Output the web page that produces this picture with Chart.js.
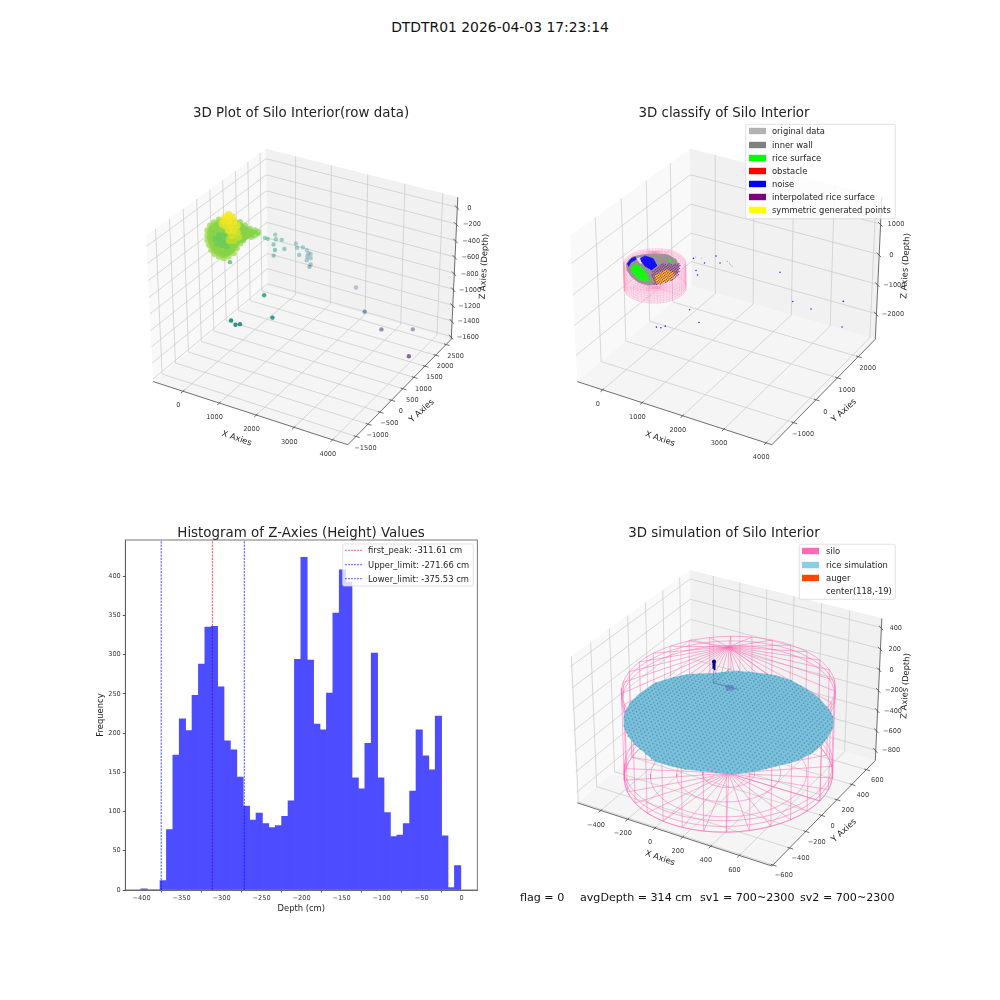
<!doctype html>
<html><head><meta charset="utf-8"><style>
html,body{margin:0;background:#fff;width:1000px;height:1000px;overflow:hidden}
canvas{position:absolute}
#sup{position:absolute;left:0;top:19px;width:1000px;text-align:center;font:13.9px 'DejaVu Sans';color:#111}
</style></head><body>
<div id="sup">DTDTR01 2026-04-03 17:23:14</div>
<canvas id="c1" width="500" height="500" style="left:0;top:0"></canvas>
<canvas id="c2" width="500" height="500" style="left:500px;top:0"></canvas>
<canvas id="c3" width="500" height="500" style="left:0;top:500px"></canvas>
<canvas id="c4" width="500" height="500" style="left:500px;top:500px"></canvas>
<script src="https://cdn.jsdelivr.net/npm/chart.js@4"></script>
<script>
/* ---------- values ---------- */
const histBins=[-397,-389,-381,-373,-365,-357,-349,-341,-333,-325,-317,-309,-301,-293,-285,-277,-269,-261,-253,-245,-237,-229,-221,-213,-205,-197,-189,-181,-173,-165,-157,-149,-141,-133,-125,-117,-109,-101,-93,-85,-77,-69,-61,-53,-45,-37,-29,-21,-13,-5];
const histCounts=[1.5,0,0,12,77,172,218,203,248,288,335,336,259,190,178.5,144,107,89,98,84.5,79.5,82,94,113.5,294,424,293,211.5,204,251,353,408,392,143,129,187,302,143,98.5,68,70,84.5,126,204,171,153,221.5,69,3,31];
const histXTicks=[-400,-350,-300,-250,-200,-150,-100,-50,0];
const histYTicks=[0,50,100,150,200,250,300,350,400];
const peakLines=[-311.61,-271.66,-375.53];
const peakBarTops=[335,107,12];
const peakNames=['first_peak: -311.61 cm','Upper_limit: -271.66 cm','Lower_limit: -375.53 cm'];

// stray points of the cloud
const strayX=[1848,2782,3151,3509,3980,1378,1703,1062,1107,1139,17,294,152,55,142,241,413,419,195,352,490,600,615,548,667,733,730,781,747,899,928,272,279];
const strayY=[2556,1428,1586,2439,1456,-584,-741,-1406,-1306,-1183,1853,1719,1682,1367,1360,1456,1258,1641,1519,2226,2074,2147,1970,2396,2285,2285,2147,2211,2093,2032,1930,-315,785];
const strayZ=[-1254,-1147,-1362,-1542,-1553,-608,-792,-737,-808,-829,-640,-640,-640,-560,-560,-640,-640,-720,-800,-800,-800,-800,-850,-900,-900,-900,-900,-930,-930,-950,-950,-420,-350];
// dense part of the cloud
const cloudX=[-665,-532,-401,-238,-64,104,256,395,452,466,407,347,-745,-753,-724, -700,-567,-436,-153,74,215,230,169,107,88,69,179,237,218,328,74,-114,-304,16,322,-688,-542,102,206,50,-51,-172,240,63,346, -550,-482,-371,-261,-385,-241,-98,-570,-469, 409,329,250,316,324,319,243,257,193,26,-129,155,65,-91,32,-100,-72];
const cloudY=[129,-52,-232,-393,-547,-654,-704,-712,-605,-438,-229,-17,340,504,655, 364,181,-1,-266,-393,-402,-234,-22,192,347,503,475,587,745,717,755,829,902,643,465,538,310,-56,-326,81,609,715,259,666,560, 276,310,283,256,111,102,92,432,483, -161,-238,-278,-90,-290,-217,-297,-3,-163,-119,-30,16,-44,-16,127,60,148];
const cloudZ=[-260,-260,-260,-260,-260,-260,-260,-260,-260,-260,-260,-260,-260,-260,-260, -300,-300,-300,-300,-300,-300,-300,-300,-300,-300,-300,-300,-300,-300,-300,-300,-300,-300,-300,-300,-300,-300,-300,-300,-300,-300,-300,-300,-300,-300, -380,-380,-380,-380,-380,-380,-380,-380,-380, -140,-170,-170,-110,-100,-60,-50,-60,-30,-60,-80,-30,-15,-40,-20,-20,-10];
const cloudHull=[14,13,12,0,1,2,3,4,5,6,7,8,9,10,11,34,29,28,30,31,32,68,70,69];
const cloudSplit=54;

// classified regions of panel 2, in x,y at rice level
const classLevel=-300;
const wallX=[-642,-689,-694,-568,-349,-67,199,415,552,556,433,276,45,-228,-471];
const wallY=[83,261,430,607,803,896,807,591,298,-114,-383,-489,-491,-351,-157];
const riceAX=[-458,-468,-266,75,202,14,-240];
const riceAY=[-32,183,130,-143,-319,-377,-241];
const riceBX=[31,180,171];
const riceBY=[710,728,620];
const noiseAX=[-511,-481,-261,0,-2,-219,-412];
const noiseAY=[450,605,594,351,113,191,335];
const noiseBX=[-624,-679,-644,-549,-575,-513];
const noiseBY=[94,353,459,376,190,-12];
const interpX=[9,28,382,595,641,509,390];
const interpY=[69,469,673,323,17,-306,-407];
const symX=[170,245,490,610,494,395];
const symY=[-55,323,263,-1,-282,-322];
const paleX=[-592,-535,-329,-375];
const paleY=[403,488,298,237];
const interpGridX=[0,60,120,180,240,300,360,420,480,540,600,660];
const interpGridY=[-420,-360,-300,-240,-180,-120,-60,0,60,120,180,240,300,360,420,480,540,600,660];
const noiseFarX=[506,826,885,1119,837,968];
const noiseFarY=[1028,966,1366,1139,589,432];
const wallFarX=[521,652,1221,1351,1420,1300];
const wallFarY=[1102,1130,1279,1192,1146,1240];

// silo
const siloCentre=[155,1];
const siloRadius2=670, siloFloor2=-740, siloRim2=60, siloApex2=445;
const siloRadius4=655, siloFloor4=-770, siloRim4=70, siloApex4=445;
const thetaDeg=[0,6,12,18,24,30,36,42,48,54,60,66,72,78,84,90,96,102,108,114,120,126,132,138,144,150,156,162,168,174,180,186,192,198,204,210,216,222,228,234,240,246,252,258,264,270,276,282,288,294,300,306,312,318,324,330,336,342,348,354,360];
const fineRings=[-740,-660,-580,-500,-420,-340,-260,-180,-100,-20,60];
const coarseRings=[-770,-715,-660,-20,25,70];
const fineDisc=[.1,.2,.3,.4,.5,.6,.7,.8,.9,1];
const coarseDisc=[.25,.5,.75,1];

// simulated rice surface
const simLevel=-314;
const simX=[-284,-168,-21,88,220,356,471,594,670,726,746,766,759,718,642,566,465,332,196,91,-26,-129,-234,-323,-416,-483,-519,-549,-561,-551,-493,-427];
const simY=[539,637,683,709,693,646,589,493,419,314,236,93,-19,-148,-253,-357,-454,-498,-540,-556,-557,-508,-458,-397,-314,-215,-143,-43,69,244,350,445];
const simGridX=[-570,-540,-510,-480,-450,-420,-390,-360,-330,-300,-270,-240,-210,-180,-150,-120,-90,-60,-30,0,30,60,90,120,150,180,210,240,270,300,330,360,390,420,450,480,510,540,570,600,630,660,690,720,750,780];
const simGridY=[-600,-570,-540,-510,-480,-450,-420,-390,-360,-330,-300,-270,-240,-210,-180,-150,-120,-90,-60,-30,0,30,60,90,120,150,180,210,240,270,300,330,360,390,420,450,480,510,540,570,600,630,660,690,720];
const augerLevel=-100;
const augerOrigin=[-72,188], augerA=[-76,403], augerB=[110,194], augerShaft=[-164,345], augerTip=[-213,426];
const hubX=[10,55,93,52], hubY=[200,225,170,139];

// axis limits and ticks of the 3D panels
const lim1={x:[-840,4389],y:[-1832,2748],z:[-1633,122]};
const lim2={x:[-657,4136],y:[-1935,2850],z:[-2881,1868]};
const lim4={x:[-578,825],y:[-612,725],z:[-906,487]};
const ticks1={x:[0,1000,2000,3000,4000],y:[-1500,-1000,-500,0,500,1000,1500,2000,2500],z:[-1600,-1400,-1200,-1000,-800,-600,-400,-200,0]};
const ticks2={x:[0,1000,2000,3000,4000],y:[-1000,0,1000,2000],z:[-2000,-1000,0,1000]};
const ticks4={x:[-400,-200,0,200,400,600],y:[-600,-400,-200,0,200,400,600],z:[-800,-600,-400,-200,0,200,400]};

const legend2=[['original data','#b2b2b2'],['inner wall','#808080'],['rice surface','#00ff00'],['obstacle','#ff0000'],['noise','#0000ff'],['interpolated rice surface','#800080'],['symmetric generated points','#ffff00']];
const legend4=[['silo','#ff69b4'],['rice simulation','#87ceeb'],['auger','#ff4500'],['center(118,-19)','rgba(255,255,255,0)']];
const viridisStops=[[68,1,84],[72,40,120],[62,74,137],[49,104,142],[38,130,142],[31,158,137],[53,183,121],[110,206,88],[181,222,43],[253,231,37]];

/* ---------- 3D view, same camera as the picture's axes ---------- */
const BOX=[1.1905,1.1905,.8929];
const N=[.4330127,-.75,.5],U=[.8660254,.5,0],V=[-.25,.4330127,.8660254];
const dot=(a,b)=>a[0]*b[0]+a[1]*b[1]+a[2]*b[2];
function view(p,L){
  const d=[(p[0]-L.x[0])/(L.x[1]-L.x[0])-.5,(p[1]-L.y[0])/(L.y[1]-L.y[0])-.5,(p[2]-L.z[0])/(L.z[1]-L.z[0])-.5].map((t,i)=>t*BOX[i]);
  const w=10-dot(N,d);
  return {x:dot(U,d)/w,y:dot(V,d)/w,w};
}
const GAP={x:NaN,y:NaN};
const minus=s=>String(s).replace('-','\u2212');
const viridis=t=>{t=Math.max(0,Math.min(1,t))*(viridisStops.length-1);const i=Math.min(viridisStops.length-2,Math.floor(t)),f=t-i;return viridisStops[i].map((c,k)=>Math.round(c+(viridisStops[i+1][k]-c)*f));};
function inside(px,py,X,Y){let c=false;for(let i=0,j=X.length-1;i<X.length;j=i++){if((Y[i]>py)!==(Y[j]>py)&&px<(X[j]-X[i])*(py-Y[i])/(Y[j]-Y[i])+X[i])c=!c;}return c;}
function lineSet(L,segs,color,width,extra){const data=[];segs.forEach(s=>{s.forEach(p=>data.push(view(p,L)));data.push(GAP);});
  return Object.assign({type:'scatter',data,showLine:true,pointRadius:0,borderColor:color,borderWidth:width,spanGaps:false,tension:0},extra||{});}
function polySet(L,pts,color){return {type:'scatter',data:pts.map(p=>view(p,L)),showLine:true,pointRadius:0,borderWidth:0,borderColor:color,backgroundColor:color,fill:'shape'};}
function dotSet(L,pts,colors,r){return {type:'scatter',data:pts.map(p=>view(p,L)),pointRadius:r,pointBorderWidth:0,pointBackgroundColor:colors,pointBorderColor:'rgba(0,0,0,0)'};}
const at=(X,Y,z)=>X.map((x,i)=>[x,Y[i],z]);

function scaffold(L,T){
  const [x0,x1]=L.x,[y0,y1]=L.y,[z0,z1]=L.z;
  const sets=[
    polySet(L,[[x0,y0,z0],[x0,y1,z0],[x0,y1,z1],[x0,y0,z1]],'#f9f9f9'),
    polySet(L,[[x0,y1,z0],[x1,y1,z0],[x1,y1,z1],[x0,y1,z1]],'#f1f1f1'),
    polySet(L,[[x0,y0,z0],[x1,y0,z0],[x1,y1,z0],[x0,y1,z0]],'#f5f5f5')];
  const grid=[];
  T.x.forEach(t=>grid.push([[t,y0,z0],[t,y1,z0],[t,y1,z1]]));
  T.y.forEach(t=>grid.push([[x1,t,z0],[x0,t,z0],[x0,t,z1]]));
  T.z.forEach(t=>grid.push([[x0,y0,t],[x0,y1,t],[x1,y1,t]]));
  sets.push(lineSet(L,grid,'#c9c9c9',.7));
  const dy=(y1-y0)*.018,dx=(x1-x0)*.018,ax=[[[x0,y0,z0],[x1,y0,z0],[x1,y1,z0],[x1,y1,z1]]];
  T.x.forEach(t=>ax.push([[t,y0+dy*.6,z0],[t,y0-dy,z0]]));
  T.y.forEach(t=>ax.push([[x1-dx*.6,t,z0],[x1+dx,t,z0]]));
  T.z.forEach(t=>ax.push([[x1-dx,y1+dy*.6,t],[x1+dx,y1-dy,t]]));
  sets.push(lineSet(L,ax,'#4a4a4a',.8));
  return sets;
}
function tickTexts(L,T,offY){
  const out=[],f='6.6px "DejaVu Sans"';
  T.x.forEach(t=>out.push({p:[t,L.y[0],L.z[0]],dx:-4.8,dy:14.5,text:minus(t),font:f}));
  T.y.forEach(t=>out.push({p:[L.x[1],t,L.z[0]],dx:offY[0],dy:offY[1],text:minus(t),font:f}));
  T.z.forEach(t=>out.push({p:[L.x[1],L.y[1],t],dx:11+1.1*String(t).length,dy:.5,text:minus(t),font:f}));
  return out;
}
/* text and legend drawn through the chart's own canvas */
const annot={id:'annot',afterDraw(ch,_,o){
  const c=ch.ctx,ox=o.ox,oy=o.oy;c.save();c.fillStyle='#2b2b2b';c.textBaseline='middle';
  (o.ticks||[]).forEach(t=>{const v=view(t.p,o.lim);c.font=t.font;c.textAlign='center';c.fillStyle='#3a3a3a';
    c.fillText(t.text,ch.scales.x.getPixelForValue(v.x)+t.dx,ch.scales.y.getPixelForValue(v.y)+t.dy);});
  (o.texts||[]).forEach(t=>{c.save();c.translate(t.x-ox,t.y-oy);c.rotate((t.rot||0)*Math.PI/180);c.font=t.font;c.textAlign=t.align||'center';c.fillStyle=t.color||'#222';c.fillText(t.text,0,0);c.restore();});
  (o.rects||[]).forEach(r=>{c.strokeStyle=r.stroke;c.lineWidth=r.lw;c.strokeRect(r.x-ox,r.y-oy,r.w,r.h);});
  if(o.leg){const g=o.leg;c.fillStyle='rgba(255,255,255,.8)';c.strokeStyle='#d6d6d6';c.lineWidth=.7;c.beginPath();c.roundRect(g.x-ox,g.y-oy,g.w,g.h,1.5);c.fill();c.stroke();
    g.rows.forEach((r,i)=>{const y=g.ys[i]-oy;
      if(g.line){c.strokeStyle=r[1];c.lineWidth=.7;c.setLineDash([2,1]);c.beginPath();c.moveTo(g.hx-ox,y);c.lineTo(g.hx+g.hw-ox,y);c.stroke();c.setLineDash([]);}
      else{c.fillStyle=r[1];c.fillRect(g.hx-ox,y-3.2,g.hw,6.4);}
      c.fillStyle='#222';c.font=g.font;c.textAlign='left';c.fillText(r[0],g.tx-ox,y+.8);});}
  c.restore();}};
function make3d(id,ox,oy,axL,axT,lim,sets,opt){
  const W=352.2,H=350;
  sets.forEach((s,i)=>{s.order=sets.length-i;});
  new Chart(document.getElementById(id),{type:'scatter',data:{datasets:sets},plugins:[annot],options:{
    responsive:false,animation:false,devicePixelRatio:1,layout:{padding:0},events:[],
    scales:{x:{type:'linear',display:false,min:-.095+(ox-axL)/W*.185,max:-.095+(ox+500-axL)/W*.185},
            y:{type:'linear',display:false,max:-.095+(axT+H-oy)/H*.185,min:-.095+(axT+H-oy-500)/H*.185}},
    plugins:{legend:{display:false},tooltip:{enabled:false},filler:{drawTime:'beforeDatasetDraw'},annot:Object.assign({ox,oy,lim},opt)}}});
}
const LAB='8.4px "DejaVu Sans"',TIT='13.4px "DejaVu Sans"';

/* ---------- panel 1 ---------- */
const cloudPts=cloudX.map((x,i)=>[x,cloudY[i],cloudZ[i]]);
const strayPts=strayX.map((x,i)=>[x,strayY[i],strayZ[i]]);
const zNorm=z=>(z+1600)/1600;
const strayW=strayPts.map(p=>view(p,lim1).w),wMin=Math.min(...strayW),wMax=Math.max(...strayW);
const strayCols=strayPts.map((p,i)=>{const a=1-.7*(strayW[i]-wMin)/(wMax-wMin);return 'rgba('+viridis(zNorm(p[2])).join(',')+','+a.toFixed(2)+')';});
const cloudCols=cloudPts.map(p=>'rgba('+viridis(zNorm(p[2])).join(',')+',.7)');
make3d('c1',0,0,125,120,lim1,[...scaffold(lim1,ticks1),dotSet(lim1,strayPts,strayCols,2.2),
  polySet(lim1,cloudHull.map(i=>cloudPts[i]),'#8ed448'),
  dotSet(lim1,cloudPts.slice(0,cloudSplit),cloudCols.slice(0,cloudSplit),3),
  dotSet(lim1,cloudPts.slice(cloudSplit),cloudCols.slice(cloudSplit).map(s=>s.replace(',.7)',',.85)')),3.8)],{
  ticks:tickTexts(lim1,ticks1,[9.5,11.5]),
  texts:[{text:'3D Plot of Silo Interior(row data)',x:301,y:113.5,font:TIT},
    {text:'X Axies',x:236.7,y:438.5,rot:19,font:LAB},{text:'Y Axies',x:421.7,y:411,rot:-42,font:LAB},{text:'Z Axies (Depth)',x:484.3,y:266.7,rot:-87,font:LAB}]});

/* ---------- silo wireframe ---------- */
function siloSegs(step,rings,disc,R,floor,rim,apex){
  const [cx,cy]=siloCentre,out=[],pt=(d,r,z)=>[cx+r*Math.cos(d*Math.PI/180),cy+r*Math.sin(d*Math.PI/180),z];
  rings.forEach(z=>out.push(thetaDeg.map(d=>pt(d,R,z))));
  disc.forEach(f=>out.push(thetaDeg.map(d=>pt(d,R*f,floor))));
  thetaDeg.forEach((d,i)=>{if(i%step)return;out.push([pt(d,R,floor),pt(d,R,rim)]);
    out.push([[cx,cy,floor],pt(d,R,floor)]);out.push([[cx,cy,apex],pt(d,R,rim)]);});
  return out;
}
/* ---------- panel 2 ---------- */
const interpPts=[];interpGridX.forEach(x=>interpGridY.forEach(y=>{if(inside(x,y,interpX,interpY))interpPts.push([x,y,classLevel]);}));
const wire2=siloSegs(1,fineRings,fineDisc,siloRadius2,siloFloor2,siloRim2,siloApex2);
make3d('c2',500,0,547.8,120,lim2,[...scaffold(lim2,ticks2),
  lineSet(lim2,wire2,'rgba(255,105,180,.3)',.45),
  polySet(lim2,at(wallX,wallY,classLevel),'#8f8f8f'),
  polySet(lim2,at(paleX,paleY,classLevel),'#f2d7e8'),
  polySet(lim2,at(riceAX,riceAY,classLevel),'#00ff00'),
  polySet(lim2,at(riceBX,riceBY,classLevel),'#00ff00'),
  polySet(lim2,at(noiseAX,noiseAY,classLevel),'#0000ff'),
  polySet(lim2,at(noiseBX,noiseBY,classLevel),'#0000ff'),
  polySet(lim2,at(symX,symY,classLevel),'#ffd400'),
  dotSet(lim2,interpPts,'rgba(128,0,128,.8)',.75),
  lineSet(lim2,wire2,'rgba(255,170,215,.14)',.45),
  dotSet(lim2,at(wallFarX,wallFarY,classLevel),'rgba(150,150,150,.7)',.6),
  dotSet(lim2,at(noiseFarX,noiseFarY,classLevel),'#2a2aff',.8),
  dotSet(lim2,strayPts.slice(0,10),'#2a2aff',.8)],{
  ticks:tickTexts(lim2,ticks2,[9.5,12]),
  texts:[{text:'3D classify of Silo Interior',x:724,y:113.5,font:TIT},
    {text:'X Axies',x:660,y:439,rot:19,font:LAB},{text:'Y Axies',x:844,y:410.7,rot:-42,font:LAB},{text:'Z Axies (Depth)',x:905.7,y:266,rot:-87,font:LAB}],
  leg:{x:745.7,y:124.3,w:149.6,h:94.4,rows:legend2,ys:[131,145,158,171,184,197,210],hx:749,hw:17,tx:772,font:LAB}});

/* ---------- panel 3: histogram ---------- */
const barData=histBins.map((x,i)=>({x,y:histCounts[i]}));
const vline=(x,y1,color,order)=>({type:'scatter',data:[{x,y:0},{x,y:y1}],showLine:true,pointRadius:0,borderColor:color,borderWidth:.8,borderDash:[2.2,1.1],order});
const tick=(size)=>({color:'#3a3a3a',font:{size,family:'DejaVu Sans'},padding:2});
new Chart(document.getElementById('c3'),{type:'bar',plugins:[annot],data:{datasets:[
   vline(peakLines[0],446,'#ff2020',3),vline(peakLines[1],446,'#2020ff',3),vline(peakLines[2],446,'#2020ff',3),
   {type:'bar',data:barData,backgroundColor:'#4d4dff',barPercentage:1,categoryPercentage:1,borderWidth:0,order:2},
   vline(peakLines[0],peakBarTops[0],'rgba(77,0,178,.9)',1),vline(peakLines[1],peakBarTops[1],'rgba(0,0,255,.8)',1),vline(peakLines[2],peakBarTops[2],'rgba(0,0,255,.8)',1)]},
 options:{responsive:false,animation:false,devicePixelRatio:1,events:[],
  layout:{padding:{left:96,top:40,right:22.7,bottom:86}},
  scales:{
   x:{type:'linear',min:-420.4,max:19.6,offset:false,grid:{display:true,drawOnChartArea:false,drawTicks:true,tickLength:2.5,tickColor:'#555'},border:{color:'#555',width:.8},
      afterBuildTicks:s=>{s.ticks=histXTicks.map(value=>({value}));},afterFit:s=>{s.height=24;},
      ticks:Object.assign(tick(6.6),{maxRotation:0,autoSkip:false,callback:v=>minus(v)}),
      title:{display:true,text:'Depth (cm)',color:'#222',font:{size:8.4,family:'DejaVu Sans'},padding:0}},
   y:{type:'linear',min:0,max:446,grid:{display:true,drawOnChartArea:false,drawTicks:true,tickLength:2.5,tickColor:'#555'},border:{color:'#555',width:.8},
      afterBuildTicks:s=>{s.ticks=histYTicks.map(value=>({value}));},afterFit:s=>{s.width=29.3;},
      ticks:Object.assign(tick(6.6),{callback:v=>String(v)}),
      title:{display:true,text:'Frequency',color:'#222',font:{size:8.4,family:'DejaVu Sans'},padding:0}}},
  plugins:{legend:{display:false},tooltip:{enabled:false},annot:{ox:0,oy:500,
   rects:[{x:125.3,y:540,w:352,h:350,stroke:'#555',lw:.8}],
   texts:[{text:'Histogram of Z-Axies (Height) Values',x:301,y:533.5,font:TIT}],
   leg:{x:342.7,y:544,w:130.6,h:42,line:true,rows:peakNames.map((n,i)=>[n,i?'#2020ff':'#ff2020']),ys:[550.3,564.7,578.7],hx:345,hw:18,tx:368,font:LAB}}}}});

/* ---------- panel 4 ---------- */
const simPts=[];simGridX.forEach(x=>simGridY.forEach(y=>{if(inside(x,y,simX,simY))simPts.push([x,y,simLevel]);}));
const lvl=p=>[p[0],p[1],augerLevel];
const BOT='11.1px "DejaVu Sans"';
make3d('c4',500,500,547.8,540,lim4,[...scaffold(lim4,ticks4),
  lineSet(lim4,siloSegs(2,coarseRings,coarseDisc,siloRadius4,siloFloor4,siloRim4,siloApex4),'rgba(255,105,180,.75)',.7),
  polySet(lim4,at(simX,simY,simLevel),'#78c1da'),
  dotSet(lim4,simPts,'rgba(75,110,160,.5)',.85),
  lineSet(lim4,[[lvl(augerOrigin),lvl(augerA)]],'rgba(60,150,120,.8)',.7),
  lineSet(lim4,[[lvl(augerOrigin),lvl(augerB)]],'rgba(70,90,170,.8)',.7),
  lineSet(lim4,[[lvl(augerOrigin),lvl(augerShaft)]],'rgba(70,90,170,.8)',.8,{borderDash:[1.5,1]}),
  polySet(lim4,at(hubX,hubY,augerLevel),'rgba(90,110,190,.55)'),
  lineSet(lim4,[[lvl(augerShaft),lvl(augerTip)]],'#00008b',3),
  dotSet(lim4,[lvl(augerTip)],'#00008b',2)],{
  ticks:tickTexts(lim4,ticks4,[11,10.5]),
  texts:[{text:'3D simulation of Silo Interior',x:724,y:533.5,font:TIT},
    {text:'X Axies',x:660,y:858.3,rot:19,font:LAB},{text:'Y Axies',x:844,y:830.7,rot:-42,font:LAB},{text:'Z Axies (Depth)',x:905.7,y:686,rot:-87,font:LAB},
    {text:'flag = 0',x:520,y:898,align:'left',font:BOT,color:'#111'},
    {text:'avgDepth = 314 cm',x:580,y:898,align:'left',font:BOT,color:'#111'},
    {text:'sv1 = 700~2300',x:700,y:898,align:'left',font:BOT,color:'#111'},
    {text:'sv2 = 700~2300',x:800,y:898,align:'left',font:BOT,color:'#111'}],
  leg:{x:799.3,y:544.3,w:96,h:55,rows:legend4,ys:[551,565,578,590.7],hx:802,hw:17,tx:826,font:LAB}});
</script></body></html>
